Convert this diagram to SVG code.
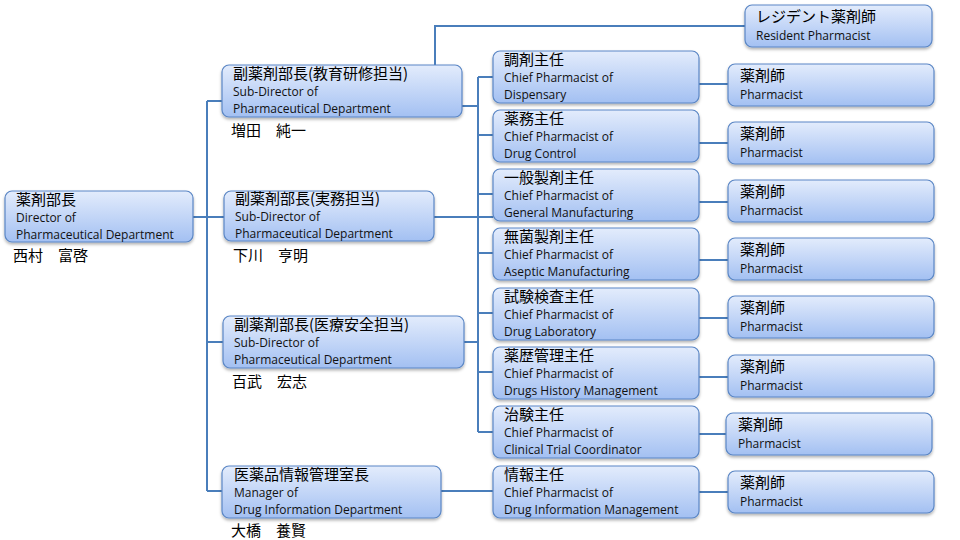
<svg xmlns="http://www.w3.org/2000/svg" width="960" height="540" viewBox="0 0 960 540">
<style>
.b{fill:url(#g);stroke:#5a86c5;stroke-width:1.2;filter:url(#s)}
.j{font-family:"Noto Sans CJK JP",sans-serif;font-size:15px;fill:#000}
.e{font-family:"Open Sans","Noto Sans",sans-serif;font-size:12px;fill:#111}
.c{stroke:#4a7ebb;stroke-width:2;fill:none}
</style>
<defs>
<linearGradient id="g" x1="0" y1="0" x2="0" y2="1"><stop offset="0" stop-color="#e3ecfc"/><stop offset="1" stop-color="#a3c0f2"/></linearGradient>
<filter id="s" x="-5%" y="-10%" width="110%" height="130%"><feDropShadow dx="0" dy="2" stdDeviation="1.5" flood-color="#000" flood-opacity="0.3"/></filter>
</defs>
<rect width="960" height="540" fill="#fff"/>
<g id="connectors" class="c">
<path d="M193 217H224M207 101V491M207 101H222M207 342H223M207 491H222"/>
<path d="M435 65V26H745"/>
<path d="M462 106H478M434 217H493M464 342H478M441 491H493"/>
<path d="M478 77V432M478 77H493M478 135H493M478 194H493M478 253H493M478 313H493M478 372H493M478 432H493"/>
<path d="M699 84H728M699 143H728M699 202H728M699 260H728M699 318H728M699 377H728M699 434H726M699 492H728"/>
</g>
<g id="director"><rect class="b" x="5" y="191" width="188" height="51" rx="7"/><text class="j" x="16" y="205">薬剤部長</text><text class="e" x="16" y="222">Director of</text><text class="e" x="16" y="239">Pharmaceutical Department</text><text class="j" x="13" y="261">西村　富啓</text></g>
<g id="sub1"><rect class="b" x="222" y="65" width="240" height="52" rx="7"/><text class="j" x="233" y="79">副薬剤部長(教育研修担当)</text><text class="e" x="233" y="96">Sub-Director of</text><text class="e" x="233" y="113">Pharmaceutical Department</text><text class="j" x="231" y="136">増田　純一</text></g>
<g id="sub2"><rect class="b" x="224" y="191" width="210" height="50" rx="7"/><text class="j" x="235" y="204">副薬剤部長(実務担当)</text><text class="e" x="235" y="221">Sub-Director of</text><text class="e" x="235" y="238">Pharmaceutical Department</text><text class="j" x="233" y="261">下川　亨明</text></g>
<g id="sub3"><rect class="b" x="223" y="316" width="241" height="52" rx="7"/><text class="j" x="234" y="330">副薬剤部長(医療安全担当)</text><text class="e" x="234" y="347">Sub-Director of</text><text class="e" x="234" y="364">Pharmaceutical Department</text><text class="j" x="232" y="387">百武　宏志</text></g>
<g id="manager"><rect class="b" x="222" y="466" width="219" height="52" rx="7"/><text class="j" x="234" y="480">医薬品情報管理室長</text><text class="e" x="234" y="497">Manager of</text><text class="e" x="234" y="514">Drug Information Department</text><text class="j" x="231" y="536">大橋　養賢</text></g>
<g id="resident"><rect class="b" x="745" y="5" width="187" height="42" rx="7"/><text class="j" x="756" y="22">レジデント薬剤師</text><text class="e" x="756" y="40">Resident Pharmacist</text></g>
<g id="chief1"><rect class="b" x="493" y="51" width="206" height="52" rx="7"/><text class="j" x="504" y="65">調剤主任</text><text class="e" x="504" y="82">Chief Pharmacist of</text><text class="e" x="504" y="99">Dispensary</text></g>
<g id="chief2"><rect class="b" x="493" y="110" width="206" height="52" rx="7"/><text class="j" x="504" y="124">薬務主任</text><text class="e" x="504" y="141">Chief Pharmacist of</text><text class="e" x="504" y="158">Drug Control</text></g>
<g id="chief3"><rect class="b" x="493" y="169" width="206" height="52" rx="7"/><text class="j" x="504" y="183">一般製剤主任</text><text class="e" x="504" y="200">Chief Pharmacist of</text><text class="e" x="504" y="217">General Manufacturing</text></g>
<g id="chief4"><rect class="b" x="493" y="228" width="206" height="52" rx="7"/><text class="j" x="504" y="242">無菌製剤主任</text><text class="e" x="504" y="259">Chief Pharmacist of</text><text class="e" x="504" y="276">Aseptic Manufacturing</text></g>
<g id="chief5"><rect class="b" x="493" y="288" width="206" height="52" rx="7"/><text class="j" x="504" y="302">試験検査主任</text><text class="e" x="504" y="319">Chief Pharmacist of</text><text class="e" x="504" y="336">Drug Laboratory</text></g>
<g id="chief6"><rect class="b" x="493" y="347" width="206" height="52" rx="7"/><text class="j" x="504" y="361">薬歴管理主任</text><text class="e" x="504" y="378">Chief Pharmacist of</text><text class="e" x="504" y="395">Drugs History Management</text></g>
<g id="chief7"><rect class="b" x="493" y="406" width="206" height="52" rx="7"/><text class="j" x="504" y="420">治験主任</text><text class="e" x="504" y="437">Chief Pharmacist of</text><text class="e" x="504" y="454">Clinical Trial Coordinator</text></g>
<g id="chief8"><rect class="b" x="493" y="466" width="206" height="52" rx="7"/><text class="j" x="504" y="480">情報主任</text><text class="e" x="504" y="497">Chief Pharmacist of</text><text class="e" x="504" y="514">Drug Information Management</text></g>
<g id="ph1"><rect class="b" x="728" y="64" width="206" height="42" rx="7"/><text class="j" x="740" y="81">薬剤師</text><text class="e" x="740" y="99">Pharmacist</text></g>
<g id="ph2"><rect class="b" x="728" y="122" width="206" height="42" rx="7"/><text class="j" x="740" y="139">薬剤師</text><text class="e" x="740" y="157">Pharmacist</text></g>
<g id="ph3"><rect class="b" x="728" y="180" width="206" height="42" rx="7"/><text class="j" x="740" y="197">薬剤師</text><text class="e" x="740" y="215">Pharmacist</text></g>
<g id="ph4"><rect class="b" x="728" y="238" width="206" height="42" rx="7"/><text class="j" x="740" y="255">薬剤師</text><text class="e" x="740" y="273">Pharmacist</text></g>
<g id="ph5"><rect class="b" x="728" y="296" width="206" height="42" rx="7"/><text class="j" x="740" y="313">薬剤師</text><text class="e" x="740" y="331">Pharmacist</text></g>
<g id="ph6"><rect class="b" x="728" y="355" width="206" height="42" rx="7"/><text class="j" x="740" y="372">薬剤師</text><text class="e" x="740" y="390">Pharmacist</text></g>
<g id="ph7"><rect class="b" x="726" y="413" width="206" height="42" rx="7"/><text class="j" x="738" y="430">薬剤師</text><text class="e" x="738" y="448">Pharmacist</text></g>
<g id="ph8"><rect class="b" x="728" y="471" width="206" height="42" rx="7"/><text class="j" x="740" y="488">薬剤師</text><text class="e" x="740" y="506">Pharmacist</text></g>
</svg>
